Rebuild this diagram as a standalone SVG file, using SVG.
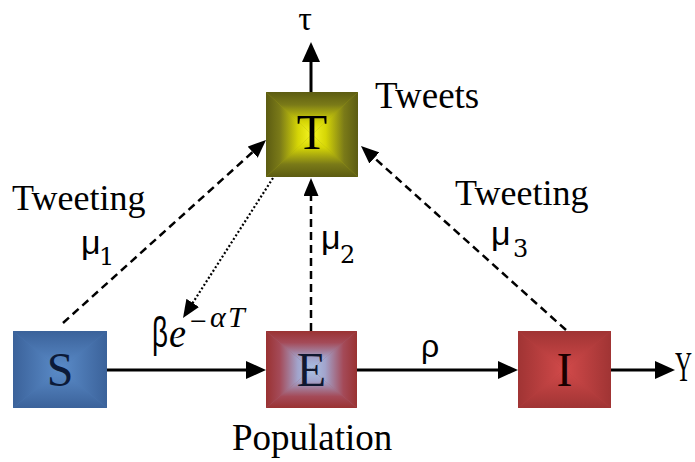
<svg xmlns="http://www.w3.org/2000/svg" width="695" height="462" viewBox="0 0 695 462">
<style>
.serif{font-family:"Liberation Serif","Times New Roman",serif;fill:#000}
.sans{font-family:"Liberation Sans",Arial,sans-serif;fill:#000}
.sub{font-family:"DejaVu Serif","Liberation Serif",serif;fill:#000}
.lbl{font-size:48px;text-anchor:middle}
.solid{stroke:#000;stroke-width:3;fill:none}
.dash{stroke:#000;stroke-width:2.5;stroke-dasharray:8 5;fill:none}
.dot{stroke:#000;stroke-width:2.2;stroke-dasharray:2 2.2;fill:none}
</style>
<defs>
<marker id="ah" markerUnits="userSpaceOnUse" viewBox="0 0 20 18" markerWidth="20" markerHeight="18" refX="15" refY="9" orient="auto"><path d="M0,0L20,9L0,18z" fill="#000"/></marker>
<marker id="ahs" markerUnits="userSpaceOnUse" viewBox="0 0 18 15" markerWidth="18" markerHeight="15" refX="13" refY="7.5" orient="auto"><path d="M0,0L18,7.5L0,15z" fill="#000"/></marker>
<linearGradient id="gS"><stop offset="0" stop-color="#3b629a"/><stop offset="1" stop-color="#5b8cc9"/></linearGradient>
<linearGradient id="gS_t" href="#gS" x1="0" y1="0" x2="0" y2="1"/>
<linearGradient id="gS_b" href="#gS" x1="0" y1="1" x2="0" y2="0"/>
<linearGradient id="gS_l" href="#gS" x1="0" y1="0" x2="1" y2="0"/>
<linearGradient id="gS_r" href="#gS" x1="1" y1="0" x2="0" y2="0"/>
<linearGradient id="gT"><stop offset="0" stop-color="#5c5c12"/><stop offset="0.3" stop-color="#7a7a18"/><stop offset="0.7" stop-color="#d6d606"/><stop offset="1" stop-color="#f6f622"/></linearGradient>
<linearGradient id="gT_t" href="#gT" x1="0" y1="0" x2="0" y2="1"/>
<linearGradient id="gT_b" href="#gT" x1="0" y1="1" x2="0" y2="0"/>
<linearGradient id="gT_l" href="#gT" x1="0" y1="0" x2="1" y2="0"/>
<linearGradient id="gT_r" href="#gT" x1="1" y1="0" x2="0" y2="0"/>
<linearGradient id="gE"><stop offset="0" stop-color="#9a3232"/><stop offset="0.3" stop-color="#a44a58"/><stop offset="0.7" stop-color="#a2a4cc"/><stop offset="1" stop-color="#a9c3e6"/></linearGradient>
<linearGradient id="gE_t" href="#gE" x1="0" y1="0" x2="0" y2="1"/>
<linearGradient id="gE_b" href="#gE" x1="0" y1="1" x2="0" y2="0"/>
<linearGradient id="gE_l" href="#gE" x1="0" y1="0" x2="1" y2="0"/>
<linearGradient id="gE_r" href="#gE" x1="1" y1="0" x2="0" y2="0"/>
<linearGradient id="gI"><stop offset="0" stop-color="#a03434"/><stop offset="1" stop-color="#d24a4a"/></linearGradient>
<linearGradient id="gI_t" href="#gI" x1="0" y1="0" x2="0" y2="1"/>
<linearGradient id="gI_b" href="#gI" x1="0" y1="1" x2="0" y2="0"/>
<linearGradient id="gI_l" href="#gI" x1="0" y1="0" x2="1" y2="0"/>
<linearGradient id="gI_r" href="#gI" x1="1" y1="0" x2="0" y2="0"/>
</defs>
<rect width="695" height="462" fill="#fff"/>

<g id="node-T">
<rect x="266" y="92" width="92" height="85" fill="#a0a010"/>
<polygon points="266,92 358,92 312,134.5" fill="url(#gT_t)"/>
<polygon points="266,177 358,177 312,134.5" fill="url(#gT_b)"/>
<polygon points="266,92 266,177 312,134.5" fill="url(#gT_l)"/>
<polygon points="358,92 358,177 312,134.5" fill="url(#gT_r)"/>
<text class="serif lbl" x="312" y="149" style="font-size:50px">T</text>
<text class="serif" x="375" y="108" font-size="37">Tweets</text>
</g>

<g id="node-S">
<rect x="13" y="331" width="94" height="77" fill="#4a78b4"/>
<polygon points="13,331 107,331 60,369.5" fill="url(#gS_t)"/>
<polygon points="13,408 107,408 60,369.5" fill="url(#gS_b)"/>
<polygon points="13,331 13,408 60,369.5" fill="url(#gS_l)"/>
<polygon points="107,331 107,408 60,369.5" fill="url(#gS_r)"/>
<text class="serif lbl" x="60" y="386" style="fill:#0c1a38">S</text>
</g>

<g id="node-E">
<rect x="266" y="331" width="91" height="77" fill="#a06070"/>
<polygon points="266,331 357,331 311.5,369.5" fill="url(#gE_t)"/>
<polygon points="266,408 357,408 311.5,369.5" fill="url(#gE_b)"/>
<polygon points="266,331 266,408 311.5,369.5" fill="url(#gE_l)"/>
<polygon points="357,331 357,408 311.5,369.5" fill="url(#gE_r)"/>
<text class="serif lbl" x="311.5" y="386" style="fill:#101830">E</text>
<text class="serif" x="232" y="450" font-size="37">Population</text>
</g>

<g id="node-I">
<rect x="518" y="331" width="93" height="77" fill="#b83f3f"/>
<polygon points="518,331 611,331 564.5,369.5" fill="url(#gI_t)"/>
<polygon points="518,408 611,408 564.5,369.5" fill="url(#gI_b)"/>
<polygon points="518,331 518,408 564.5,369.5" fill="url(#gI_l)"/>
<polygon points="611,331 611,408 564.5,369.5" fill="url(#gI_r)"/>
<text class="serif lbl" x="564.5" y="386" style="fill:#1a0000">I</text>
</g>

<g id="connectors">
<line class="solid" x1="311" y1="92" x2="311" y2="47" marker-end="url(#ah)"/>
<line class="solid" x1="107" y1="370" x2="261" y2="370" marker-end="url(#ah)"/>
<line class="solid" x1="357" y1="370" x2="513" y2="370" marker-end="url(#ah)"/>
<line class="solid" x1="611" y1="370" x2="670" y2="370" marker-end="url(#ah)"/>
<line class="dash" x1="63" y1="323" x2="262.3" y2="143.4" marker-end="url(#ahs)"/>
<line class="dash" x1="566" y1="330" x2="364.7" y2="149.3" marker-end="url(#ahs)"/>
<line class="dash" x1="311" y1="331" x2="311" y2="183" marker-end="url(#ahs)"/>
<line class="dot" x1="273" y1="178" x2="185.7" y2="313.8" marker-end="url(#ahs)"/>
</g>

<g id="labels">
<text class="serif" x="305" y="30" font-size="34" text-anchor="middle">τ</text>
<text class="serif" x="675" y="381" font-size="42" textLength="17" lengthAdjust="spacingAndGlyphs">Υ</text>
<text class="serif" x="12" y="210" font-size="36">Tweeting</text>
<text class="serif" x="455" y="205" font-size="36">Tweeting</text>
<text class="sans" x="81" y="254" font-size="34">μ</text>
<text class="sub" x="99" y="265" font-size="24">1</text>
<text class="sans" x="321" y="249" font-size="34">μ</text>
<text class="sub" x="340" y="263" font-size="24">2</text>
<text class="sans" x="491" y="245" font-size="34">μ</text>
<text class="sub" x="513" y="257" font-size="24">3</text>
<text class="sans" x="421" y="357" font-size="32">ρ</text>
<text class="sans" x="152" y="347" font-size="42" textLength="16" lengthAdjust="spacingAndGlyphs">β</text>
<text class="serif" x="169" y="347" font-size="42" font-style="italic" textLength="17" lengthAdjust="spacingAndGlyphs">e</text>
<text class="serif" x="190" y="331" font-size="30">−</text>
<text class="serif" x="210" y="327" font-size="30" font-style="italic">α</text>
<text class="serif" x="228" y="327" font-size="30" font-style="italic">T</text>
</g>
</svg>
